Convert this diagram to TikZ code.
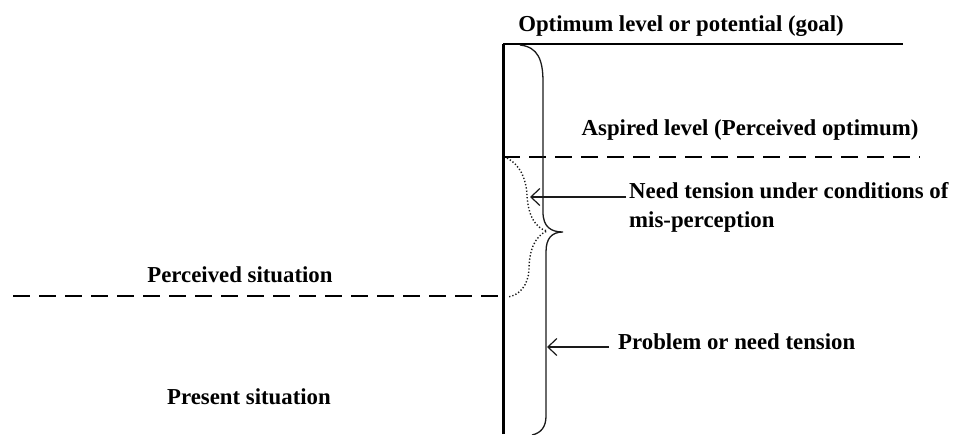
\documentclass[tikz,border=0pt]{standalone}
\usepackage{fontspec}
\setmainfont{Liberation Serif}
\usepackage{tikz}
\usetikzlibrary{arrows.meta, positioning, calc}
\definecolor{InkBlack}{HTML}{000000}
\definecolor{LineGrey}{HTML}{1A1A1A}

\begin{document}
\begin{tikzpicture}[x=1pt, y=-1pt, font=\fontsize{22.8}{27}\selectfont\bfseries,
  lbl/.style={inner sep=1pt, text=InkBlack, align=left},
  level/.style={line width=1.6pt, dash pattern=on 17pt off 9pt, InkBlack},
  brace/.style={line width=1.3pt, LineGrey},
  pointer/.style={-{Straight Barb[length=9pt, width=17pt]}, line width=1.2pt, LineGrey}]
  \useasboundingbox (0,0) rectangle (955,434);

  % axis and goal line
  \coordinate (axtop) at (503,44);
  \coordinate (axbot) at (503,434);
  \coordinate (goalend) at (903,44);
  \draw[line width=3pt, InkBlack] (axbot) -- (axtop);
  \draw[line width=2pt, InkBlack] (axtop) -- (goalend);

  % dashed levels
  \coordinate (aspstart) at (503,157);
  \coordinate (aspend) at (920,157);
  \coordinate (perstart) at (13,296);
  \coordinate (perend) at (503,296);
  \draw[level] (aspstart) -- (aspend);
  \draw[level] (perstart) -- (perend);

  % braces
  \draw[brace] (520,45) .. controls (538,47) and (543,60) .. (543,82) -- (543,212)
    .. controls (543,227) and (551,232) .. (563,232)
    .. controls (552,232) and (546,238) .. (546,252) -- (546,416)
    .. controls (546,427) and (541,433) .. (532,435);
  \draw[brace, dotted, line width=1.4pt] (507,158) .. controls (520,165) and (526,178) .. (527,195)
    .. controls (528,215) and (535,228) .. (547,231)
    .. controls (535,236) and (529,250) .. (529,270)
    .. controls (528,285) and (520,295) .. (508,297);
  \coordinate (dottip) at (530,197);
  \coordinate (bracept) at (547,347);

  % labels
  \node[lbl] (goal) at (681,26) {Optimum level or potential (goal)};
  \node[lbl] (aspired) at (750,130) {Aspired level (Perceived optimum)};
  \node[lbl, anchor=north west, inner sep=0pt] (needlbl) at (629,182) {Need tension under conditions of\\[2pt]mis-perception};
  \node[lbl] (perceived) at (240,275) {Perceived situation};
  \node[lbl, anchor=west] (problem) at (617,342) {Problem or need tension};
  \node[lbl] (present) at (249,397) {Present situation};

  \draw[pointer] ($(needlbl.west |- dottip)+(-3,0)$) -- (dottip);
  \draw[pointer] ($(problem.west |- bracept)+(-8,0)$) -- (bracept);
\end{tikzpicture}
\end{document}
